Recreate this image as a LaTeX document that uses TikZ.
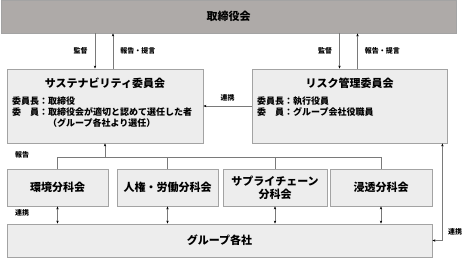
\documentclass[tikz,border=0pt]{standalone}
\usepackage{fontspec}
\setmainfont{Noto Sans CJK JP}
\usepackage{xcolor}
\usepackage{tikz}
\usetikzlibrary{arrows.meta,positioning,calc}

\definecolor{boardgray}{HTML}{AEAAA8}
\definecolor{boxgray}{HTML}{EDEDED}
\definecolor{edgegray}{HTML}{A3A3A3}
\definecolor{linegray}{HTML}{7A7A7A}

\begin{document}
\begin{tikzpicture}[
  x=1pt, y=-1pt,
  box/.style={
    rectangle,
    draw=edgegray,
    thick,
    fill=boxgray,
    align=center,
    inner sep=0pt,
    font=\bfseries\fontsize{11}{13}\selectfont
  },
  line/.style={draw=linegray, thick},
  link/.style={line, -{Stealth[length=3pt,width=2.4pt,color=black]}},
  dlink/.style={line, {Stealth[length=3pt,width=2.4pt,color=black]}-{Stealth[length=3pt,width=2.4pt,color=black]}},
  lbl/.style={font=\bfseries\fontsize{7}{8}\selectfont, inner sep=1pt},
  body/.style={font=\bfseries\fontsize{9}{11}\selectfont, align=left, inner sep=0pt, anchor=north west}
]
\useasboundingbox (0,0) rectangle (471,258);

% boxes
\node[box, fill=boardgray, minimum width=455pt, minimum height=33pt] (board) at (228.5,16.5) {取締役会};
\node[box, minimum width=196pt, minimum height=74pt] (sus) at (105,106) {};
\node[box, minimum width=195pt, minimum height=74pt] (risk) at (349.5,106) {};
\node[box, minimum width=101pt, minimum height=37pt] (env) at (57.5,187.5) {環境分科会};
\node[box, minimum width=101pt, minimum height=37pt] (hum) at (167.5,187.5) {人権・労働分科会};
\node[box, minimum width=104pt, minimum height=37pt] (sup) at (275,187.5) {サプライチェーン\\分科会};
\node[box, minimum width=102pt, minimum height=37pt] (pen) at (381,187.5) {浸透分科会};
\node[box, minimum width=425pt, minimum height=33pt] (group) at (219.5,240.5) {グループ各社};

% committee texts
\node[font=\bfseries\fontsize{11}{13}\selectfont] (sustitle) at (105,83) {サステナビリティ委員会};
\node[body] (susbody) at (12,97) {委員長：取締役\\委\hspace{1em}員：取締役会が適切と認めて選任した者\\\hspace*{4em}（グループ各社より選任）};
\node[font=\bfseries\fontsize{11}{13}\selectfont] (risktitle) at (349.5,83) {リスク管理委員会};
\node[body] (riskbody) at (257,97) {委員長：執行役員\\委\hspace{1em}員：グループ会社役職員};

% board <-> committees
\draw[link] ([xshift=-10pt]sus.north |- board.south) -- node[lbl, left=6pt]{監督} ([xshift=-10pt]sus.north);
\draw[link] ([xshift=8pt]sus.north) -- node[lbl, right=6pt]{報告・提言} ([xshift=8pt]sus.north |- board.south);
\draw[link] ([xshift=-10pt]risk.north |- board.south) -- node[lbl, left=6pt]{監督} ([xshift=-10pt]risk.north);
\draw[link] ([xshift=8pt]risk.north) -- node[lbl, right=6pt]{報告・提言} ([xshift=8pt]risk.north |- board.south);
\draw[link] (risk.west) -- node[lbl, above=3pt]{連携} (sus.east);

% subcommittees report
\coordinate (bus) at (105,157);
\draw[line] (env.north) |- (pen.north |- bus) -- (pen.north);
\draw[line] (hum.north) -- (hum.north |- bus);
\draw[line] (sup.north) -- (sup.north |- bus);
\draw[link] (sus.south |- bus) -- (sus.south);
\node[lbl] (rep) at (22,155) {報告};

% subcommittees <-> group
\draw[dlink] (env.south) -- (env.south |- group.north);
\draw[dlink] (hum.south) -- (hum.south |- group.north);
\draw[dlink] (sup.south) -- (sup.south |- group.north);
\draw[dlink] (pen.south) -- (pen.south |- group.north);
\node[lbl] (coop) at (22,213) {連携};

% risk <-> group
\draw[dlink] ([xshift=-5pt]risk.south east) |- (group.east);
\node[lbl] (coop2) at (455,232) {連携};

\end{tikzpicture}
\end{document}
